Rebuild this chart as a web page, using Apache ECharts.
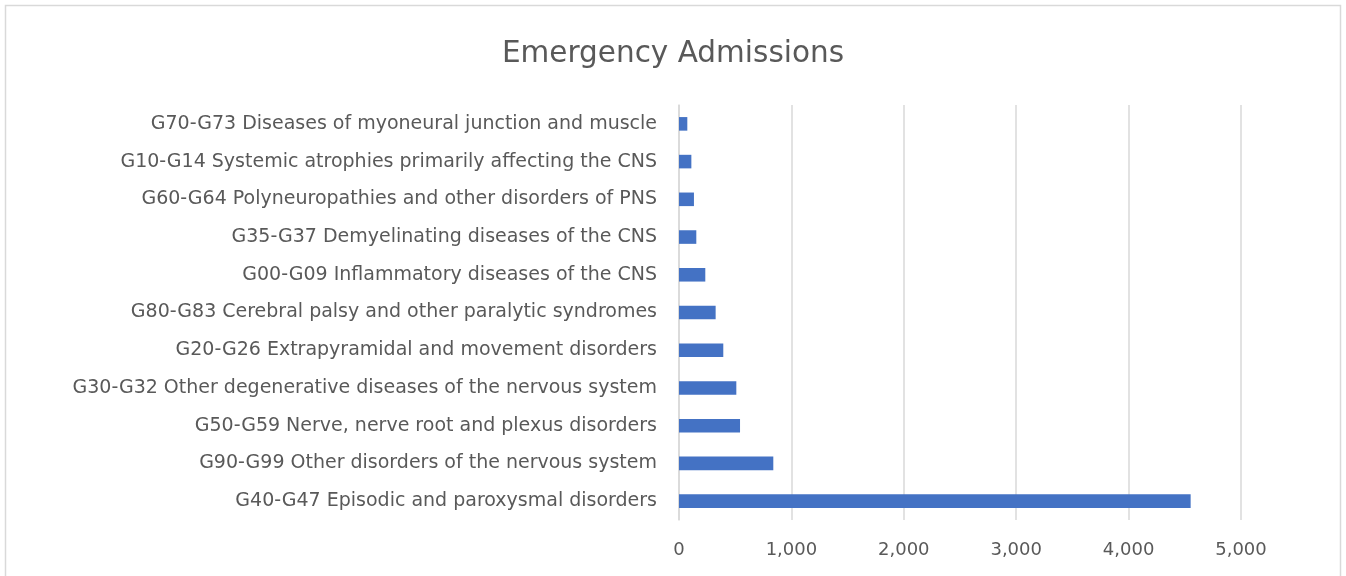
<!DOCTYPE html>
<html>
<head>
<meta charset="utf-8">
<script src="https://cdn.jsdelivr.net/npm/echarts@6/dist/echarts.min.js"></script>
<style>html,body{margin:0;padding:0;background:#fff;}#c{width:1346px;height:576px;}</style>
</head>
<body>
<div id="c"></div>
<script>
const categories = [
  "G70-G73 Diseases of myoneural junction and muscle",
  "G10-G14 Systemic atrophies primarily affecting the CNS",
  "G60-G64 Polyneuropathies and other disorders of PNS",
  "G35-G37 Demyelinating diseases of the CNS",
  "G00-G09 Inflammatory diseases of the CNS",
  "G80-G83 Cerebral palsy and other paralytic syndromes",
  "G20-G26 Extrapyramidal and movement disorders",
  "G30-G32 Other degenerative diseases of the nervous system",
  "G50-G59 Nerve, nerve root and plexus disorders",
  "G90-G99 Other disorders of the nervous system",
  "G40-G47 Episodic and paroxysmal disorders"
];
const admissions = [74, 110, 133, 154, 234, 326, 394, 510, 543, 839, 4552];
const title = "Emergency Admissions";

const chart = echarts.init(document.getElementById('c'), null, {renderer: 'canvas'});
const font = "'DejaVu Sans', sans-serif";
chart.setOption({
  animation: false,
  backgroundColor: '#fff',
  title: {
    text: title, left: 'center', top: 34,
    textStyle: {color: '#595959', fontSize: 29.5, fontWeight: 'normal', fontFamily: font}
  },
  graphic: [{
    type: 'rect', shape: {x: 5.5, y: 5.5, width: 1335, height: 600},
    style: {fill: 'none', stroke: '#d9d9d9', lineWidth: 1.5}, silent: true
  }],
  grid: {left: 679, right: 105, top: 105, bottom: 56, containLabel: false},
  xAxis: {
    type: 'value', min: 0, max: 5000, interval: 1000,
    axisLine: {show: false}, axisTick: {show: false},
    splitLine: {lineStyle: {color: '#d9d9d9', width: 1.5}},
    axisLabel: {
      color: '#595959', fontSize: 18, fontFamily: font, margin: 21,
      formatter: v => v.toLocaleString('en-US')
    }
  },
  yAxis: {
    type: 'category', data: categories, inverse: true,
    axisLine: {show: true, lineStyle: {color: '#d9d9d9', width: 1.5}},
    axisTick: {show: false},
    axisLabel: {color: '#595959', fontSize: 19, fontFamily: font, margin: 22}
  },
  series: [{
    type: 'bar', data: admissions, barWidth: '36%',
    itemStyle: {color: '#4472c4'}
  }]
});
</script>
</body>
</html>
